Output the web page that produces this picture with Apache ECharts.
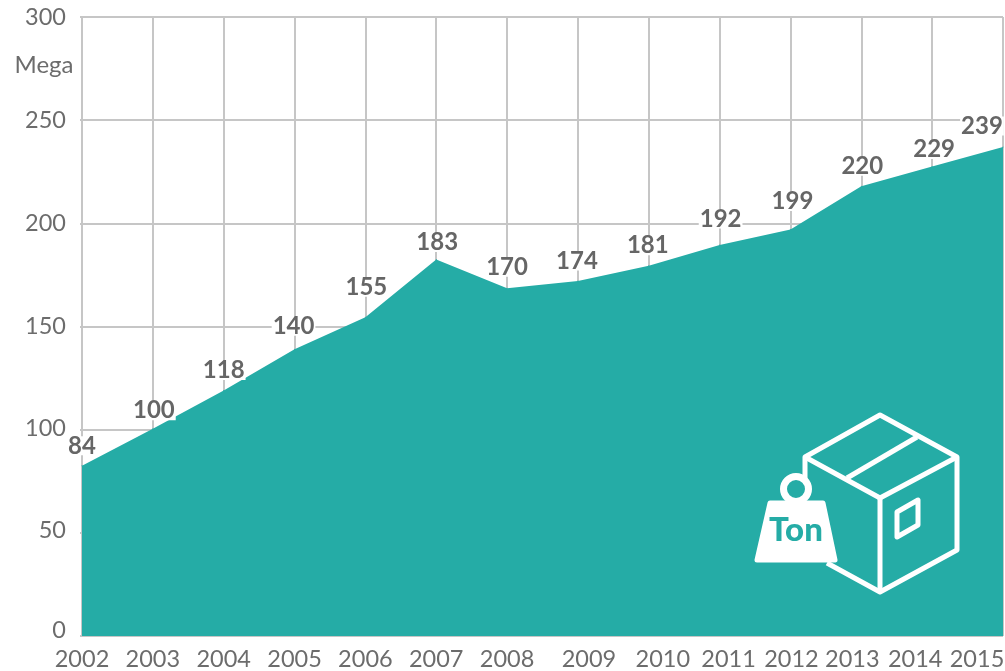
<!DOCTYPE html>
<html><head><meta charset="utf-8">
<style>html,body{margin:0;padding:0;background:#fff}#c{width:1005px;height:671px}</style>
<script src="https://cdn.jsdelivr.net/npm/echarts@6/dist/echarts.min.js"></script>
</head><body><div id="c"></div>
<script>
const years = ['2002','2003','2004','2005','2006','2007','2008','2009','2010','2011','2012','2013','2014','2015'];
const areaValues = [82.5,100.5,119,139,154.5,182.5,168.5,172,179.5,189.5,197,218,227.5,237];
const valueLabels = [84,100,118,140,155,183,170,174,181,192,199,220,229,239];
const labelNudgeX = [0,1,0,-1,1,1,0,-1,-1,1,2,1,2,-21];
const labelNudgeY = [0,2,0,-3,-10,3,-1,0,0,-6,-8,0,3,-1];
const yearNudge = [0,0,0,0,0,0,0,11,14,9,1,-9,-17,-26];
const yNudge = {0:6,50:2,100:1};
const FONT='Lato', GREY='#666', TICKGREY='#6c6c6c', LINE='#c6c6c6', TEAL='#25aca6';

const rich={};
years.forEach((y,i)=>{const n=yearNudge[i];rich['y'+i]={fontFamily:FONT,fontSize:23.5,color:TICKGREY,padding:[0,n<0?-2*n:0,0,n>0?2*n:0]};});
const yRich={};
[0,50,100,150,200,250,300].forEach(v=>{yRich['v'+v]={fontFamily:FONT,fontSize:23.5,color:TICKGREY,padding:[0,0,yNudge[v]?2*yNudge[v]:0,0]};});

const W='#fff';
const icon=[
 {type:'polyline',shape:{points:[[805,480],[805,457],[880,415],[957,457],[957,550],[880,592],[827,563]]},style:{stroke:W,lineWidth:5,fill:'none',lineJoin:'round'}},
 {type:'polyline',shape:{points:[[805,457],[880,498],[957,457]]},style:{stroke:W,lineWidth:5,fill:'none',lineJoin:'round'}},
 {type:'line',shape:{x1:880,y1:498,x2:880,y2:592},style:{stroke:W,lineWidth:5}},
 {type:'line',shape:{x1:917,y1:437,x2:847,y2:478},style:{stroke:W,lineWidth:5}},
 {type:'polygon',shape:{points:[[897,512],[918,500],[918,525],[897,537]]},style:{stroke:W,lineWidth:5,fill:'none',lineJoin:'round'}},
 {type:'circle',shape:{cx:796,cy:489,r:12.5},style:{stroke:W,lineWidth:7,fill:TEAL}},
 {type:'polygon',shape:{points:[[770,503],[823,503],[835,560],[757,560]]},style:{stroke:W,lineWidth:5,fill:W,lineJoin:'round'}},
 {type:'text',style:{x:796,y:530,text:'Ton',align:'center',verticalAlign:'middle',fill:TEAL,fontFamily:FONT,fontWeight:900,fontSize:33}},
 {type:'text',style:{x:44,y:65,text:'Mega',align:'center',verticalAlign:'middle',fill:TICKGREY,fontFamily:FONT,fontSize:24}}
];

echarts.init(document.getElementById('c'),null,{renderer:'canvas'}).setOption({
 animation:false,
 grid:{left:82,right:2,top:17,bottom:35,outerBoundsMode:'none'},
 xAxis:{type:'category',boundaryGap:false,data:years,
  axisLine:{show:false},axisTick:{show:false},
  splitLine:{show:true,lineStyle:{color:LINE,width:2}},
  axisLabel:{interval:0,margin:11,showMinLabel:true,showMaxLabel:true,hideOverlap:false,
   formatter:(v,i)=>`{y${i}|${v}}`,rich:rich}},
 yAxis:{type:'value',min:0,max:300,interval:50,
  axisLine:{show:true,lineStyle:{color:LINE,width:2}},
  axisTick:{show:true,length:2,lineStyle:{color:LINE,width:2}},
  splitLine:{show:true,lineStyle:{color:LINE,width:2}},
  axisLabel:{margin:16,formatter:v=>`{v${v}|${v}}`,rich:yRich}},
 series:[{type:'line',z:3,symbol:'circle',symbolSize:1,showSymbol:true,showAllSymbol:true,itemStyle:{color:TEAL},lineStyle:{width:0},areaStyle:{color:TEAL,opacity:1},
  label:{show:true},
  data:areaValues.map((v,i)=>({value:v,
   label:{show:true,position:'top',distance:10,offset:[labelNudgeX[i],labelNudgeY[i]],
    formatter:String(valueLabels[i]),fontFamily:FONT,fontWeight:'bold',fontSize:24,lineHeight:19,color:GREY,
    backgroundColor:'#fff',padding:[0,1,0,1]}}))}],
 graphic:icon.map(o=>Object.assign({z:10},o))
});
</script></body></html>
